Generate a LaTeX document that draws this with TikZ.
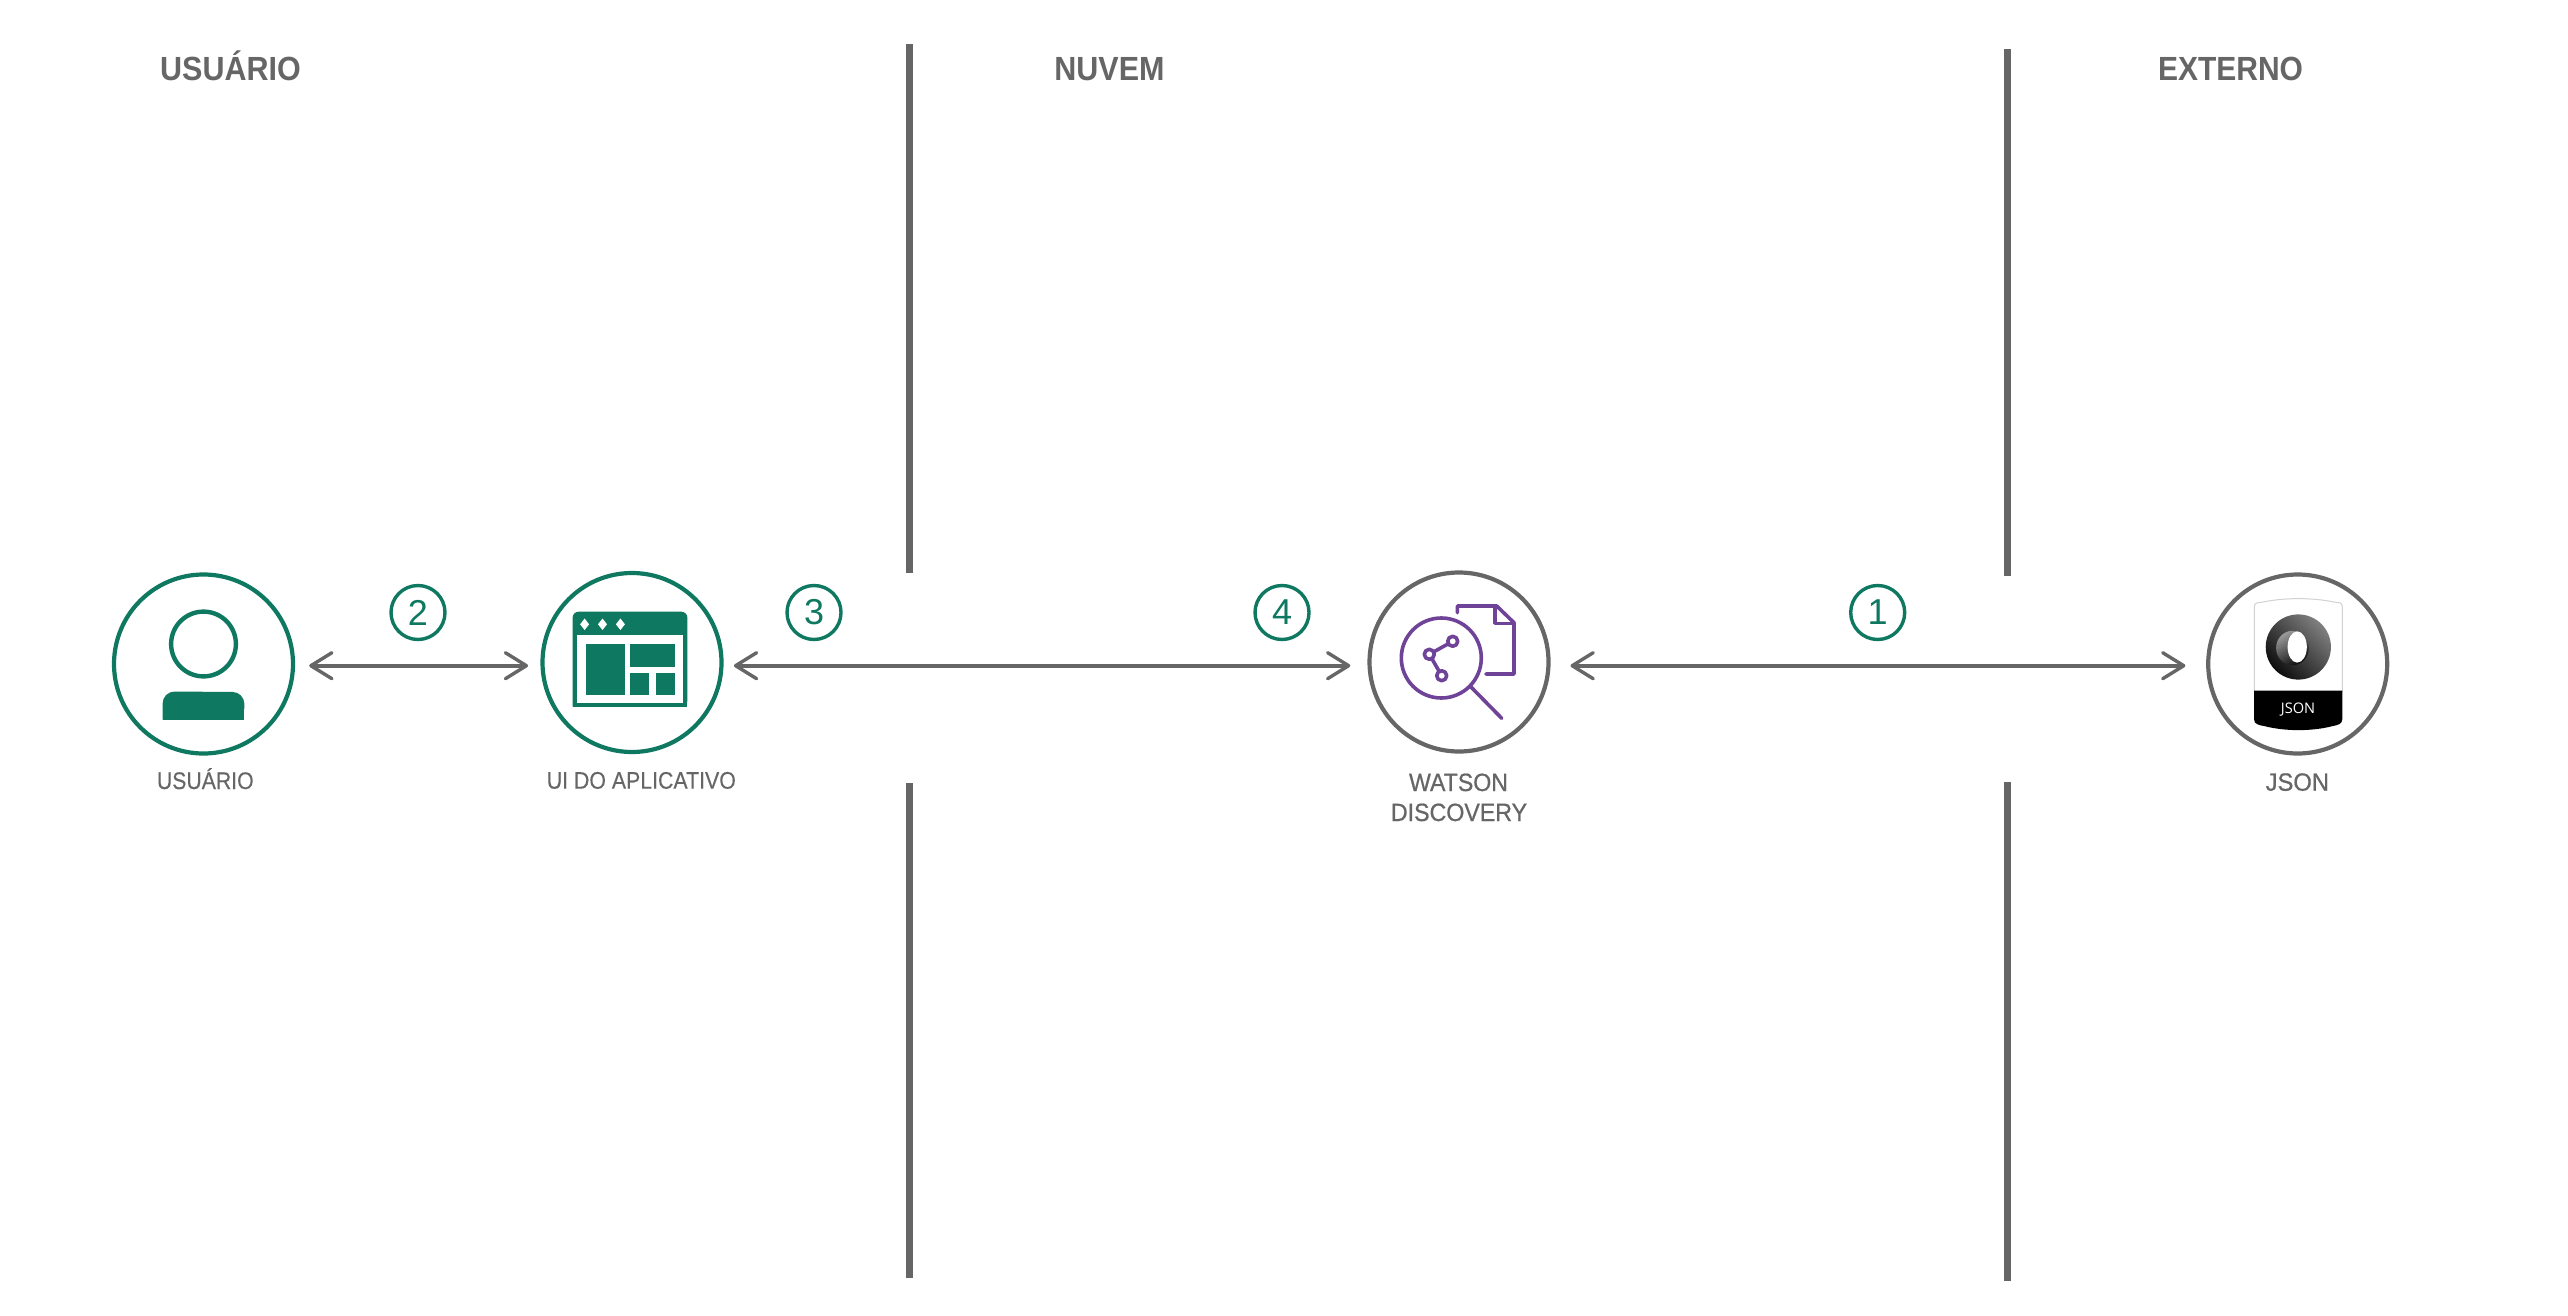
\documentclass[tikz,border=0pt]{standalone}
\usepackage{fontspec}
\setmainfont{Liberation Sans}
\newfontfamily\badgefont{Open Sans}
\newfontfamily\capfont[FakeBold=0.3]{Liberation Sans}
\newfontfamily\widefont[FakeBold=0.7]{Liberation Sans}
\usetikzlibrary{arrows.meta}
\definecolor{teal}{HTML}{0F7860}
\definecolor{ink}{HTML}{666666}
\definecolor{violet}{HTML}{6F4398}
\newcommand{\sq}[2]{\scalebox{#1}[1]{#2}}
\newcommand{\fs}[1]{\fontsize{#1}{15}\selectfont}
\tikzset{
  hub/.style={circle,draw,line width=2.1pt,minimum size=179*0.5pt,inner sep=0pt,outer sep=0pt},
  userhub/.style={hub,draw=teal},
  cloudhub/.style={hub,draw=ink},
  stepnum/.style={circle,draw=teal,text=teal,line width=1.7pt,minimum size=54*0.5pt,inner sep=0pt,outer sep=0pt,font=\fs{18}},
  link/.style={draw=ink,line width=2pt,{Straight Barb[length=10.5pt,width=13pt,line width=1.7pt,round]}-{Straight Barb[length=10.5pt,width=13pt,line width=1.7pt,round]}},
  divider/.style={draw=ink,line width=3.5pt},
  heading/.style={anchor=base,inner sep=0pt,text=ink,font=\fs{16.75}\bfseries},
  caption/.style={anchor=base,inner sep=0pt,text=ink,font=\capfont\fs{12}},
  capwide/.style={anchor=base,inner sep=0pt,text=ink,font=\widefont\fs{12.5}},
  stroke/.style={draw=violet,line width=1.8pt,line cap=round,line join=round},
}
\begin{document}
\begin{tikzpicture}[x=0.5pt,y=-0.5pt]
\useasboundingbox (0,0) rectangle (2568,1316);
\fill[white] (0,0) rectangle (2568,1316);

% dividers
\coordinate (d1a) at (909.7,44);  \coordinate (d1b) at (909.7,573);
\coordinate (d1c) at (909.7,783); \coordinate (d1d) at (909.7,1278);
\coordinate (d2a) at (2007.5,49); \coordinate (d2b) at (2007.5,576);
\coordinate (d2c) at (2007.5,782);\coordinate (d2d) at (2007.5,1281);
\draw[divider] (d1a) -- (d1b);
\draw[divider] (d1c) -- (d1d);
\draw[divider] (d2a) -- (d2b);
\draw[divider] (d2c) -- (d2d);

% headings
\node[heading] (hUser) at (230.5,81) {\sq{.91}{USUÁRIO}};
\node[heading] (hCloud) at (1109.5,81) {\sq{.91}{NUVEM}};
\node[heading] (hExt) at (2230.5,81) {\sq{.895}{EXTERNO}};

% hubs
\node[userhub] (user) at (203.5,664) {};
\node[userhub] (app) at (632,662.5) {};
\node[cloudhub] (watson) at (1459,662) {};
\node[cloudhub] (json) at (2297.7,664) {};

% connectors
\draw[link] ([xshift=8.1pt,yshift=-0.85pt]user.east) -- ([xshift=-7.2pt,yshift=-1.6pt]app.west);
\draw[link] ([xshift=6.2pt,yshift=-1.6pt]app.east) -- ([xshift=-9.6pt,yshift=-1.85pt]watson.west);
\draw[link] ([xshift=11pt,yshift=-1.85pt]watson.east) -- ([xshift=-11.4pt,yshift=-0.85pt]json.west);

% step numbers
\node[stepnum] (n2) at (418,612.5) {2};
\node[stepnum] (n3) at (814,612.5) {3};
\node[stepnum] (n4) at (1282,612.5) {4};
\node[stepnum] (n1) at (1877.7,612.5) {1};

% person icon
\draw[teal,line width=2.2pt] (203.5,644) circle[radius=16.2pt];
\fill[teal,rounded corners=6pt] (162.6,719.5) -- (162.6,691.5) -- (244.4,692) -- (244.4,719.5) [sharp corners] -- cycle;
\fill[teal] (162.6,705) rectangle (244.4,719.5);

% app window icon
\fill[teal,rounded corners=3pt] (572.6,706.7) -- (572.6,611.7) -- (687.4,611.7) -- (687.4,706.7) [sharp corners] -- cycle;
\fill[teal] (572.6,690) rectangle (687.4,706.7);
\fill[white] (577,635) rectangle (683,703);
\fill[teal] (585.5,644.3) rectangle (624.5,694.7);
\fill[teal] (630,644.3) rectangle (674.6,667);
\fill[teal] (630,672.7) rectangle (649.3,694.7);
\fill[teal] (655.8,672.7) rectangle (674.6,694.7);
\foreach \dx in {584.6,602.5,620.4}
  \fill[white] (\dx-4.5,624.3) -- (\dx,618.5) -- (\dx+4.5,624.3) -- (\dx,630) -- cycle;

% discovery icon
\draw[stroke] (1441.3,658) circle[radius=20pt];
\draw[stroke] (1470.7,686.7) -- (1501.7,718.3);
\draw[stroke] (1457.3,612.7) -- (1457.3,606) -- (1496.7,606) -- (1514,622.7) -- (1514,674) -- (1486,674);
\draw[stroke] (1495,606.7) -- (1495,623.3) -- (1513,623.3);
\draw[stroke] (1452.7,641.3) -- (1429.3,654.3) -- (1441.7,675.7);
\foreach \px/\py in {1452.7/641.3,1429.3/654.3,1441.7/675.7}
  \draw[stroke,fill=white] (\px,\py) circle[radius=2.5pt];

% json badge
\draw[draw=black!18,line width=.5pt,fill=white] (2254.3,692) -- (2254.3,607)
  .. controls (2254.3,602) and (2258,603) .. (2263,602)
  .. controls (2285,597.5) and (2312,597.5) .. (2334,602)
  .. controls (2339,603) and (2342.3,602) .. (2342.3,607) -- (2342.3,692);
\fill[black] (2254,690.7) -- (2342.3,690.7) -- (2342.3,719)
  .. controls (2342.3,724) and (2338,725) .. (2333,726)
  .. controls (2312,731.5) and (2285,731.5) .. (2264,726)
  .. controls (2258,725) and (2254,724) .. (2254,719) -- cycle;
\node[inner sep=0pt,text=white,anchor=base,font=\badgefont\fs{7.3}] (badge) at (2298,713) {JSON};
\shade[bottom color=black!95,top color=black!50,shading angle=-45] (2298.3,647) circle[radius=16.3pt];
\shade[bottom color=black!95,top color=black!40,shading angle=30] (2292.5,648) ellipse[x radius=8.2pt,y radius=8.6pt];
\fill[white] (2297.2,647) ellipse[x radius=4.8pt,y radius=7.8pt];

% captions
\node[caption] (cUser) at (205.3,789) {\sq{.885}{USUÁRIO}};
\node[caption] (cApp) at (641.3,788.7) {\sq{.888}{UI DO APLICATIVO}};
\node[capwide] (cW1) at (1458.5,791) {\sq{.925}{WATSON}};
\node[capwide] (cW2) at (1459,821) {\sq{.928}{DISCOVERY}};
\node[capwide] (cJson) at (2297.3,790.7) {\sq{.95}{JSON}};
\end{tikzpicture}
\end{document}
